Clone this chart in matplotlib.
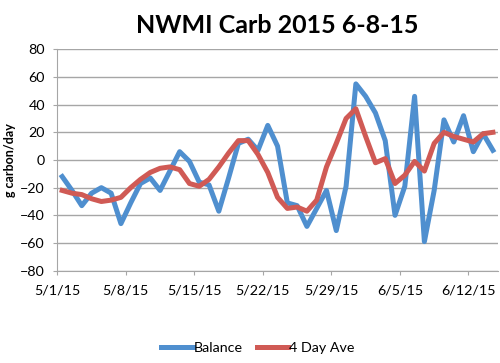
import pandas as pd
import matplotlib.pyplot as plt

# daily values, 5/1/15 .. 6/14/15
dates = pd.date_range("2015-05-01", periods=45, freq="D")
balance = [-12, -22, -33, -24, -20, -24, -46, -31, -17, -13,
           -22, -8, 6, -1, -16, -18, -37, -13, 12, 15,
           7, 25, 10, -31, -33, -48, -35, -22, -51, -19,
           55, 46, 34, 14, -40, -19, 46, -59, -22, 29,
           13, 32, 6, 19, 7]
four_day_ave = [-22, -24, -25, -28, -30, -29, -27, -20, -14, -9,
                -6, -5, -7, -17, -19, -14, -5, 5, 14, 14,
                4, -9, -27, -35, -34, -37, -29, -5, 12, 30,
                37, 17, -2, 1, -17, -11, -1, -8, 12, 20,
                17, 15, 13, 19, 20]
tick_dates = pd.to_datetime(["2015-05-01", "2015-05-08", "2015-05-15", "2015-05-22",
                             "2015-05-29", "2015-06-05", "2015-06-12"])
tick_labels = ["5/1/15", "5/8/15", "5/15/15", "5/22/15", "5/29/15", "6/5/15", "6/12/15"]

plt.rcParams["font.family"] = ["Lato", "DejaVu Sans"]

fig = plt.figure(figsize=(5, 3.63), dpi=100)
ax = fig.add_axes([0.1146, 0.2543, 0.881, 0.6099])

# Excel date axis puts each point in the middle of its day
x = dates + pd.Timedelta(hours=12)
ax.plot(x, balance, color="#4F8FCF", lw=3.6, label="Balance", solid_joinstyle="round")
ax.plot(x, four_day_ave, color="#D05A55", lw=3.6, label="4 Day Ave", solid_joinstyle="round")

ax.set_xlim(dates[0], dates[-1] + pd.Timedelta(days=1))
ax.set_ylim(-80, 80)
ax.set_yticks(range(-80, 81, 20))
ax.set_xticks(tick_dates)
ax.set_xticklabels(tick_labels)
ax.grid(axis="y", color="#A6A6A6", lw=1)
ax.set_axisbelow(True)

for s in ["top", "right"]:
    ax.spines[s].set_visible(False)
ax.spines["left"].set_color("#A6A6A6")
ax.spines["bottom"].set_color("#A6A6A6")
ax.tick_params(axis="both", colors="#A6A6A6", labelcolor="black", labelsize=10.3, length=3)
ax.tick_params(axis="x", pad=7)
ax.tick_params(axis="y", pad=6)

ax.set_ylabel("g carbon/day", fontsize=9, fontweight="bold", labelpad=3)
ax.set_title("NWMI Carb 2015 6-8-15", fontsize=18, fontweight="bold", pad=12)

ax.legend(loc="upper center", bbox_to_anchor=(0.455, -0.265), ncol=2, frameon=False,
          fontsize=10.3, handlelength=2.2, handletextpad=0.05, columnspacing=1.0)

fig.savefig("out.png", dpi=100)
